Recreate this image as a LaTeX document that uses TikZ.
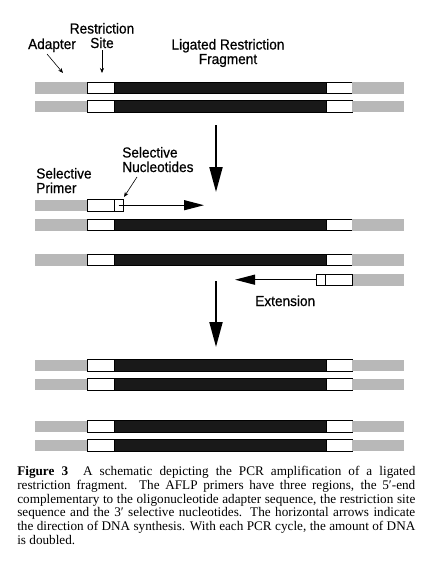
\documentclass[tikz,border=0pt]{standalone}
\usepackage{fontspec}
\setmainfont{Liberation Serif}
\newfontfamily\labelfont[FakeBold=0.6, FakeStretch=0.94]{Liberation Sans}
\usepackage{tikz}
\usetikzlibrary{arrows.meta, positioning}

% one double-stranded piece: adapter, site, fragment, site, adapter
\newcommand{\fragment}[1]{%
  \fill[adapter] (35,#1) rectangle (87,#1+11.5);
  \draw[site] (87,#1) rectangle (114,#1+11.5);
  \draw[insert] (114,#1) rectangle (326,#1+11.5);
  \draw[site] (326,#1) rectangle (352,#1+11.5);
  \fill[adapter] (352,#1) rectangle (404,#1+11.5);}

\begin{document}
\begin{tikzpicture}[
    x = 1pt,
    y = -1pt,
    > = stealth,
    semithick
]

% Setup the styles
\tikzstyle{adapter}=[fill=black!28]
\tikzstyle{site}=[draw=black, fill=white, line width=0.8pt]
\tikzstyle{insert}=[draw=black, fill=black!90, line width=0.8pt]
\tikzstyle{lbl}=[font=\labelfont\fontsize{14.5}{14.5}\selectfont, inner sep=0pt, align=center]
\tikzstyle{leader}=[line width=0.6pt, -{Stealth[length=5pt, width=4pt]}]
\tikzstyle{step down}=[line width=2pt, -{Triangle[length=25pt, width=13pt]}]
\tikzstyle{synth}=[line width=1.2pt, -{Triangle[length=20pt, width=10pt]}]

\useasboundingbox (0,0) rectangle (432,563);

% Draw the strands
\foreach \y in {82,100.5,219,254,359.5,378.5,420.5,439.5} {\fragment{\y}}

% Draw the primers
\fill[adapter] (35,199.5) rectangle (87,211);
\draw[site] (87,199.5) rectangle (114,211);
\draw[site] (114,199.5) rectangle (123,211) coordinate[pos=0.5] (fwd);
\fill[adapter] (352,274) rectangle (404,285.5);
\draw[site] (325,274) rectangle (352,285.5);
\draw[site] (316,274) rectangle (325,285.5);
\coordinate (rev) at (316,279.7);

% Draw the labels (base = last line)
\node[lbl, anchor=base] (adapter) at (52,49) {Adapter};
\node[lbl, anchor=base] (site) at (102,48) {Restriction\\Site};
\node[lbl, anchor=base] (frag) at (228,64) {Ligated Restriction\\Fragment};
\node[lbl, anchor=base west, align=left] (primer) at (36,193) {Selective\\Primer};
\node[lbl, anchor=base west, align=left] (nucl) at (122,172) {Selective\\Nucleotides};
\node[lbl, anchor=base west] (ext) at (255,306) {Extension};

% Draw the leaders and arrows
\coordinate (adapterend) at (63,73);
\coordinate (siteend) at (102,73);
\coordinate (nuclend) at (124,197);
\draw[leader] (47,54) -- (adapterend);
\draw[leader] (site.south) ++(0,2) -- (siteend);
\draw[leader] (137,177) -- (nuclend);

\coordinate (fwdend) at (204,205.2);
\coordinate (revend) at (235,279.7);
\draw[synth] (fwd |- fwdend) -- (fwdend);
\draw[synth] (rev) -- (revend);

\coordinate (a1) at (216,125);
\coordinate (b1) at (216,192);
\coordinate (a2) at (216,281);
\coordinate (b2) at (216,347);
\draw[step down] (a1) -- (b1);
\draw[step down] (a2) -- (b2);

% Draw the caption
\node[anchor=north west, text width=398pt, inner sep=0pt, align=justify,
      font=\fontsize{13.2}{13.7}\selectfont] (caption) at (17,466)
  {\textbf{Figure 3}\hspace{0.6em} A schematic depicting the PCR amplification of a ligated\linebreak
   restriction fragment. The AFLP primers have three regions, the 5′-end\linebreak
   complementary to the oligonucleotide adapter sequence, the restriction site\linebreak
   sequence and the 3′ selective nucleotides. The horizontal arrows indicate\linebreak
   the direction of DNA synthesis. With each PCR cycle, the amount of DNA\linebreak
   is doubled.};

\end{tikzpicture}
\end{document}
